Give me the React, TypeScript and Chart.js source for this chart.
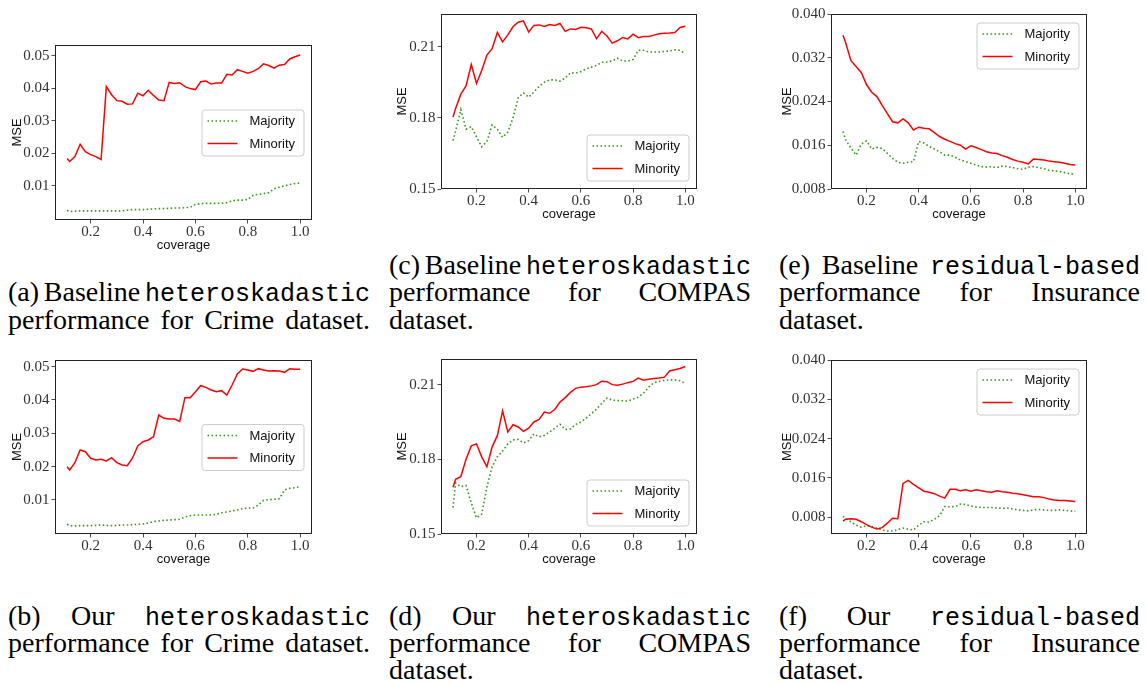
import React, { useEffect, useRef } from "react";
import { Chart, registerables } from "chart.js";

Chart.register(...registerables);

// ---------------- data ----------------
const coverage = [
  0.11, 0.12, 0.14, 0.16, 0.18, 0.2, 0.22, 0.24, 0.26, 0.28, 0.3, 0.32, 0.34, 0.36, 0.38, 0.4,
  0.42, 0.44, 0.46, 0.48, 0.5, 0.52, 0.54, 0.56, 0.58, 0.6, 0.62, 0.64, 0.66, 0.68, 0.7, 0.72,
  0.74, 0.76, 0.78, 0.8, 0.82, 0.84, 0.86, 0.88, 0.9, 0.92, 0.94, 0.96, 0.98, 1.0,
];

const xTicks = [0.2, 0.4, 0.6, 0.8, 1.0];
const crimeYTicks = [0.01, 0.02, 0.03, 0.04, 0.05];
const compasYTicks = [0.15, 0.18, 0.21];
const insuranceYTicks = [0.008, 0.016, 0.024, 0.032, 0.04];

const seriesLabels = ["Majority", "Minority"];

// (a) Baseline heteroskadastic, Crime
const crimeBaseMajority = [
  0.0025, 0.0021, 0.0022, 0.0023, 0.0023, 0.0023, 0.0023, 0.0023, 0.0023, 0.0023, 0.0023, 0.0023,
  0.0025, 0.0027, 0.0027, 0.0027, 0.0028, 0.0029, 0.003, 0.003, 0.0031, 0.0032, 0.0032, 0.0033,
  0.0034, 0.0043, 0.0045, 0.0046, 0.0046, 0.0046, 0.0047, 0.0048, 0.0054, 0.0056, 0.0056, 0.0058,
  0.0071, 0.0074, 0.0076, 0.0079, 0.0091, 0.0096, 0.01, 0.0104, 0.0107, 0.0109,
];
const crimeBaseMinority = [
  0.0184, 0.0175, 0.019, 0.0228, 0.0205, 0.0196, 0.019, 0.0181, 0.0405, 0.038, 0.0362, 0.036,
  0.0351, 0.0352, 0.0385, 0.0377, 0.0394, 0.0378, 0.0364, 0.0362, 0.0418, 0.0415, 0.0417, 0.0405,
  0.0399, 0.0396, 0.042, 0.0422, 0.0413, 0.0416, 0.0416, 0.0443, 0.0441, 0.0457, 0.0452, 0.0446,
  0.0452, 0.046, 0.0475, 0.047, 0.0462, 0.0471, 0.0473, 0.049, 0.0497, 0.0502,
];

// (b) Our heteroskadastic, Crime
const crimeOursMajority = [
  0.0027, 0.0023, 0.0022, 0.0023, 0.0023, 0.0023, 0.0024, 0.0025, 0.0024, 0.0023, 0.0024, 0.0025,
  0.0025, 0.0026, 0.0027, 0.0028, 0.0031, 0.0035, 0.0037, 0.0039, 0.004, 0.0041, 0.0042, 0.0049,
  0.0053, 0.0055, 0.0055, 0.0055, 0.0055, 0.0057, 0.0062, 0.0064, 0.0067, 0.007, 0.0074, 0.0076,
  0.0076, 0.0085, 0.0099, 0.0101, 0.0102, 0.0104, 0.013, 0.0135, 0.0137, 0.014,
];
const crimeOursMinority = [
  0.02, 0.019, 0.0212, 0.025, 0.0245, 0.0225, 0.022, 0.0222, 0.0217, 0.0227, 0.0212, 0.0205,
  0.0203, 0.0226, 0.0262, 0.0275, 0.028, 0.029, 0.0355, 0.0345, 0.0343, 0.0343, 0.0336, 0.0407,
  0.0407, 0.0425, 0.0443, 0.0438, 0.043, 0.0425, 0.0428, 0.0415, 0.0445, 0.0478, 0.0493, 0.049,
  0.0486, 0.0494, 0.049, 0.0487, 0.0488, 0.0487, 0.0483, 0.0494, 0.0492, 0.0492,
];

// (c) Baseline heteroskadastic, COMPAS
const compasBaseMajority = [
  0.1704, 0.1745, 0.1835, 0.1753, 0.1763, 0.172, 0.1678, 0.17, 0.177, 0.1752, 0.1718, 0.174,
  0.18, 0.1885, 0.1905, 0.1887, 0.1909, 0.1933, 0.195, 0.196, 0.196, 0.1955, 0.1968, 0.199,
  0.1989, 0.1995, 0.2006, 0.2014, 0.2021, 0.2034, 0.2036, 0.204, 0.2052, 0.204, 0.204, 0.2046,
  0.2085, 0.2085, 0.2078, 0.2078, 0.2078, 0.208, 0.2082, 0.2087, 0.2085, 0.2071,
];
const compasBaseMinority = [
  0.1803, 0.184, 0.19, 0.1935, 0.2025, 0.1945, 0.2, 0.2065, 0.2092, 0.216, 0.212, 0.215,
  0.2184, 0.2203, 0.2209, 0.2162, 0.219, 0.2192, 0.2185, 0.2194, 0.219, 0.2198, 0.2165, 0.2175,
  0.2173, 0.2182, 0.218, 0.2175, 0.2134, 0.2165, 0.2145, 0.2115, 0.2125, 0.2139, 0.2133, 0.2153,
  0.2138, 0.2143, 0.2143, 0.2149, 0.2155, 0.2157, 0.2158, 0.216, 0.2181, 0.2186,
];

// (d) Our heteroskadastic, COMPAS
const compasOursMajority = [
  0.1606, 0.1705, 0.169, 0.1695, 0.1625, 0.1565, 0.158, 0.169, 0.177, 0.181, 0.1833, 0.1862,
  0.1878, 0.188, 0.1866, 0.1875, 0.1902, 0.189, 0.1896, 0.191, 0.1925, 0.1941, 0.192, 0.1922,
  0.194, 0.195, 0.1965, 0.1983, 0.2002, 0.2025, 0.2046, 0.2038, 0.2036, 0.2035, 0.2034, 0.2042,
  0.205, 0.2066, 0.209, 0.2108, 0.2113, 0.2118, 0.2119, 0.2119, 0.2116, 0.2105,
];
const compasOursMinority = [
  0.1688, 0.172, 0.173, 0.18, 0.1854, 0.1862, 0.181, 0.177, 0.185, 0.1895, 0.1995, 0.191,
  0.1939, 0.193, 0.1912, 0.1925, 0.195, 0.196, 0.199, 0.1985, 0.2, 0.203, 0.2048, 0.2069,
  0.2085, 0.209, 0.2092, 0.2095, 0.21, 0.2114, 0.2112, 0.21, 0.2098, 0.2102, 0.2108, 0.2113,
  0.2126, 0.2118, 0.2122, 0.2125, 0.2127, 0.213, 0.2155, 0.216, 0.2165, 0.2173,
];

// (e) Baseline residual-based, Insurance
const insuranceBaseMajority = [
  0.0185, 0.017, 0.0155, 0.0142, 0.0162, 0.0168, 0.0153, 0.0156, 0.0154, 0.0145, 0.0136, 0.0129,
  0.0127, 0.0129, 0.013, 0.0167, 0.0164, 0.0158, 0.0153, 0.0148, 0.0142, 0.0142, 0.0138, 0.0133,
  0.013, 0.0127, 0.0124, 0.0121, 0.012, 0.0121, 0.0119, 0.0122, 0.0121, 0.0119, 0.0117, 0.0116,
  0.012, 0.0121, 0.0119, 0.0117, 0.0114, 0.0113, 0.0112, 0.011, 0.0108, 0.0107,
];
const insuranceBaseMinority = [
  0.0361, 0.0348, 0.0315, 0.0304, 0.0293, 0.0271, 0.0257, 0.0249, 0.0233, 0.0218, 0.0203, 0.0201,
  0.0208, 0.0201, 0.0188, 0.0193, 0.0191, 0.019, 0.0183, 0.0176, 0.0171, 0.0167, 0.0163, 0.016,
  0.0153, 0.0159, 0.0156, 0.0152, 0.0148, 0.0146, 0.0145, 0.0141, 0.0138, 0.0134, 0.0131, 0.0129,
  0.0126, 0.0135, 0.0134, 0.0133, 0.0131, 0.013, 0.0129, 0.0127, 0.0125, 0.0124,
];

// (f) Our residual-based, Insurance
const insuranceOursMajority = [
  0.0082, 0.0078, 0.0071, 0.0064, 0.006, 0.0063, 0.0061, 0.0058, 0.0054, 0.0052, 0.0052, 0.0055,
  0.0058, 0.0056, 0.0054, 0.0064, 0.0071, 0.007, 0.0076, 0.0083, 0.0102, 0.0101, 0.0102, 0.0107,
  0.0106, 0.0103, 0.0101, 0.01, 0.01, 0.01, 0.0099, 0.0098, 0.0099, 0.0097, 0.0095, 0.0094,
  0.0093, 0.0095, 0.0096, 0.0095, 0.0094, 0.0094, 0.0095, 0.0094, 0.0093, 0.0092,
];
const insuranceOursMinority = [
  0.0072, 0.0076, 0.0077, 0.0076, 0.0071, 0.0065, 0.006, 0.0056, 0.0059, 0.0068, 0.0078, 0.0077,
  0.0149, 0.0155, 0.0147, 0.014, 0.0133, 0.0131, 0.0128, 0.0123, 0.0119, 0.0137, 0.0137, 0.0134,
  0.0136, 0.0133, 0.0136, 0.0134, 0.0132, 0.0131, 0.0134, 0.0132, 0.0131, 0.0129, 0.0128, 0.0126,
  0.0124, 0.0122, 0.0122, 0.012, 0.0117, 0.0115, 0.0114, 0.0114, 0.0113, 0.0112,
];

// ---------------- layout / styles ----------------
const X_MIN = 0.064;
const X_MAX = 1.045;
const PAD_L = 60;
const PAD_T = 12;
const PAD_R = 16;
const PAD_B = 45;

const GREEN = "#3a9a1c";
const RED = "#ff0000";
const TICK_FONT = { family: "'Liberation Serif', 'DejaVu Serif', serif", size: 15 };
const LABEL_SIZE = 13;
const LABEL_LH = LABEL_SIZE * 1.2;
const LABEL_FONT = { family: "'Liberation Sans', 'DejaVu Sans', sans-serif", size: LABEL_SIZE };

type Box = { l: number; t: number; r: number; b: number };
type PanelSpec = {
  box: Box;
  yMin: number;
  yMax: number;
  yTicks: number[];
  yDecimals: number;
  legendLoc: "upper right" | "lower right" | "center right";
  titleOffset: number;
  majority: number[];
  minority: number[];
};

const panels: PanelSpec[] = [
  { box: { l: 55, t: 45, r: 312, b: 220 }, yMin: -0.0005, yMax: 0.0533, yTicks: crimeYTicks, yDecimals: 2,
    legendLoc: "center right", titleOffset: 38, majority: crimeBaseMajority, minority: crimeBaseMinority },
  { box: { l: 55, t: 360, r: 312, b: 534 }, yMin: -0.0002, yMax: 0.052, yTicks: crimeYTicks, yDecimals: 2,
    legendLoc: "center right", titleOffset: 38, majority: crimeOursMajority, minority: crimeOursMinority },
  { box: { l: 441, t: 14, r: 697, b: 189 }, yMin: 0.15, yMax: 0.2238, yTicks: compasYTicks, yDecimals: 2,
    legendLoc: "lower right", titleOffset: 39, majority: compasBaseMajority, minority: compasBaseMinority },
  { box: { l: 441, t: 359, r: 697, b: 534 }, yMin: 0.15, yMax: 0.2203, yTicks: compasYTicks, yDecimals: 2,
    legendLoc: "lower right", titleOffset: 39, majority: compasOursMajority, minority: compasOursMinority },
  { box: { l: 831, t: 14, r: 1087, b: 189 }, yMin: 0.008, yMax: 0.04, yTicks: insuranceYTicks, yDecimals: 3,
    legendLoc: "upper right", titleOffset: 44, majority: insuranceBaseMajority, minority: insuranceBaseMinority },
  { box: { l: 831, t: 360, r: 1087, b: 534 }, yMin: 0.0046, yMax: 0.04, yTicks: insuranceYTicks, yDecimals: 3,
    legendLoc: "upper right", titleOffset: 44, majority: insuranceOursMajority, minority: insuranceOursMinority },
];

// Frame (four spines) + matplotlib-like legend inside the axes
const frameLegendPlugin = {
  id: "frameLegend",
  afterDatasetsDraw(chart: any, _args: any, opts: any) {
    const { ctx, chartArea } = chart;
    const { left, top, right, bottom } = chartArea;
    const w = 102;
    const h = 46;
    const inset = 8.5;
    const bx = right - inset - w;
    let by: number;
    if (opts.loc === "upper right") by = top + inset;
    else if (opts.loc === "lower right") by = bottom - inset - h;
    else by = (top + bottom) / 2 - h / 2;
    ctx.save();
    ctx.beginPath();
    ctx.roundRect(bx + 0.5, by + 0.5, w, h, 3);
    ctx.fillStyle = "rgba(255,255,255,0.85)";
    ctx.fill();
    ctx.strokeStyle = "#cccccc";
    ctx.lineWidth = 1;
    ctx.stroke();
    chart.data.datasets.forEach((ds: any, i: number) => {
      const y = by + 11.5 + i * 22.5;
      ctx.beginPath();
      ctx.setLineDash(ds.borderDash || []);
      ctx.strokeStyle = ds.borderColor;
      ctx.lineWidth = ds.borderWidth;
      ctx.moveTo(bx + 6, y);
      ctx.lineTo(bx + 36, y);
      ctx.stroke();
      ctx.setLineDash([]);
      ctx.fillStyle = "#111";
      ctx.font = `${LABEL_SIZE}px 'Liberation Sans', 'DejaVu Sans', sans-serif`;
      ctx.textBaseline = "middle";
      ctx.textAlign = "left";
      ctx.fillText(ds.label, bx + 48, y + 0.5);
    });
    ctx.strokeStyle = "#222";
    ctx.lineWidth = 1;
    ctx.strokeRect(left + 0.5, top + 0.5, right - left - 1, bottom - top - 1);
    ctx.restore();
  },
};

function Panel({ spec }: { spec: PanelSpec }) {
  const ref = useRef<HTMLCanvasElement>(null);
  const { box } = spec;
  const width = box.r - box.l + PAD_L + PAD_R;
  const height = box.b - box.t + PAD_T + PAD_B;

  useEffect(() => {
    const canvas = ref.current;
    if (!canvas) return;
    const chart = new Chart(canvas, {
      type: "line",
      data: {
        datasets: [
          {
            label: seriesLabels[0],
            data: coverage.map((x, i) => ({ x, y: spec.majority[i] })),
            borderColor: GREEN,
            borderWidth: 1.6,
            borderDash: [1.6, 2.4],
            pointRadius: 0,
            tension: 0,
            fill: false,
            order: 1,
          },
          {
            label: seriesLabels[1],
            data: coverage.map((x, i) => ({ x, y: spec.minority[i] })),
            borderColor: RED,
            borderWidth: 1.5,
            pointRadius: 0,
            tension: 0,
            fill: false,
            order: 0,
          },
        ],
      },
      options: {
        animation: false,
        responsive: false,
        maintainAspectRatio: false,
        layout: { padding: { left: 0, top: PAD_T, right: PAD_R, bottom: 0 } },
        plugins: {
          legend: { display: false },
          tooltip: { enabled: false },
          frameLegend: { loc: spec.legendLoc },
        } as any,
        scales: {
          x: {
            type: "linear",
            min: X_MIN,
            max: X_MAX,
            afterBuildTicks: (s: any) => {
              s.ticks = xTicks.map((v) => ({ value: v }));
            },
            afterFit: (s: any) => {
              s.height = PAD_B;
            },
            ticks: {
              callback: (v: any) => Number(v).toFixed(1),
              font: TICK_FONT,
              color: "#333",
              padding: 0,
              maxRotation: 0,
              autoSkip: false,
            },
            grid: { display: true, drawOnChartArea: false, drawTicks: true, tickLength: 3.5, color: "#222", lineWidth: 0.8 },
            border: { display: false },
            title: {
              display: true,
              text: "coverage",
              font: LABEL_FONT,
              color: "#111",
              padding: { top: 0, bottom: PAD_B - 25.5 - LABEL_LH / 2 },
            },
          },
          y: {
            type: "linear",
            min: spec.yMin,
            max: spec.yMax,
            afterBuildTicks: (s: any) => {
              s.ticks = spec.yTicks.map((v) => ({ value: v }));
            },
            afterFit: (s: any) => {
              s.width = PAD_L;
            },
            ticks: {
              callback: (v: any) => Number(v).toFixed(spec.yDecimals),
              font: TICK_FONT,
              color: "#333",
              padding: 2,
              autoSkip: false,
            },
            grid: { display: true, drawOnChartArea: false, drawTicks: true, tickLength: 3.5, color: "#222", lineWidth: 0.8 },
            border: { display: false },
            title: {
              display: true,
              text: "MSE",
              font: LABEL_FONT,
              color: "#111",
              padding: { top: PAD_L - spec.titleOffset - LABEL_LH / 2, bottom: 0 },
            },
          },
        },
      } as any,
      plugins: [frameLegendPlugin],
    });
    return () => chart.destroy();
  }, []);

  return (
    <canvas
      ref={ref}
      width={width}
      height={height}
      style={{ position: "absolute", left: box.l - PAD_L, top: box.t - PAD_T, width, height }}
    />
  );
}

// ---------------- captions ----------------
type Part = [string, boolean];
type CapLine = { parts: Part[]; justify: boolean; baseline: number };
type Caption = { left: number; width: number; lines: CapLine[] };

const COL = [
  { left: 8, width: 362 },
  { left: 389, width: 362 },
  { left: 779, width: 361 },
];
const TOP_BASE = [274, 301.5, 329];
const BOT_BASE = [625, 652, 679];

const captions: Caption[] = [
  { ...COL[0], lines: [
    { parts: [["(a) Baseline", false], ["heteroskadastic", true]], justify: true, baseline: TOP_BASE[1] },
    { parts: [["performance for Crime dataset.", false]], justify: true, baseline: TOP_BASE[2] },
  ] },
  { ...COL[1], lines: [
    { parts: [["(c) Baseline", false], ["heteroskadastic", true]], justify: true, baseline: TOP_BASE[0] },
    { parts: [["performance for COMPAS", false]], justify: true, baseline: TOP_BASE[1] },
    { parts: [["dataset.", false]], justify: false, baseline: TOP_BASE[2] },
  ] },
  { ...COL[2], lines: [
    { parts: [["(e) Baseline", false], ["residual-based", true]], justify: true, baseline: TOP_BASE[0] },
    { parts: [["performance for Insurance", false]], justify: true, baseline: TOP_BASE[1] },
    { parts: [["dataset.", false]], justify: false, baseline: TOP_BASE[2] },
  ] },
  { ...COL[0], lines: [
    { parts: [["(b) Our", false], ["heteroskadastic", true]], justify: true, baseline: BOT_BASE[0] },
    { parts: [["performance for Crime dataset.", false]], justify: true, baseline: BOT_BASE[1] },
  ] },
  { ...COL[1], lines: [
    { parts: [["(d) Our", false], ["heteroskadastic", true]], justify: true, baseline: BOT_BASE[0] },
    { parts: [["performance for COMPAS", false]], justify: true, baseline: BOT_BASE[1] },
    { parts: [["dataset.", false]], justify: false, baseline: BOT_BASE[2] },
  ] },
  { ...COL[2], lines: [
    { parts: [["(f) Our", false], ["residual-based", true]], justify: true, baseline: BOT_BASE[0] },
    { parts: [["performance for Insurance", false]], justify: true, baseline: BOT_BASE[1] },
    { parts: [["dataset.", false]], justify: false, baseline: BOT_BASE[2] },
  ] },
];

const SERIF = "'Liberation Serif', 'Times New Roman', serif";
const MONO = "'Liberation Mono', 'DejaVu Sans Mono', monospace";
const CAP_SIZE = 28;
const MONO_SIZE = 25;
const CAP_LH = 30;
const BASELINE_IN_BOX = 24.45;

function CaptionBlock({ cap }: { cap: Caption }) {
  return (
    <>
      {cap.lines.map((ln, i) => {
        const words: { w: string; mono: boolean }[] = [];
        ln.parts.forEach(([t, mono]) => t.split(" ").forEach((w) => words.push({ w, mono })));
        return (
          <div
            key={i}
            style={{
              position: "absolute",
              left: cap.left,
              top: ln.baseline - BASELINE_IN_BOX,
              width: cap.width,
              height: CAP_LH,
              lineHeight: CAP_LH + "px",
              fontFamily: SERIF,
              fontSize: CAP_SIZE,
              color: "#000",
              display: "flex",
              justifyContent: ln.justify ? "space-between" : "flex-start",
              alignItems: "baseline",
              whiteSpace: "nowrap",
            }}
          >
            {words.map((wd, j) =>
              wd.mono ? (
                <span key={j} style={{ fontFamily: MONO, fontSize: MONO_SIZE }}>
                  {wd.w}
                </span>
              ) : (
                <span key={j}>{wd.w}</span>
              )
            )}
          </div>
        );
      })}
    </>
  );
}

export default function App() {
  return (
    <div
      style={{
        position: "absolute",
        left: 0,
        top: 0,
        width: 1146,
        height: 684,
        background: "#fff",
        overflow: "hidden",
      }}
    >
      {panels.map((p, i) => (
        <Panel key={i} spec={p} />
      ))}
      {captions.map((c, i) => (
        <CaptionBlock key={i} cap={c} />
      ))}
    </div>
  );
}
